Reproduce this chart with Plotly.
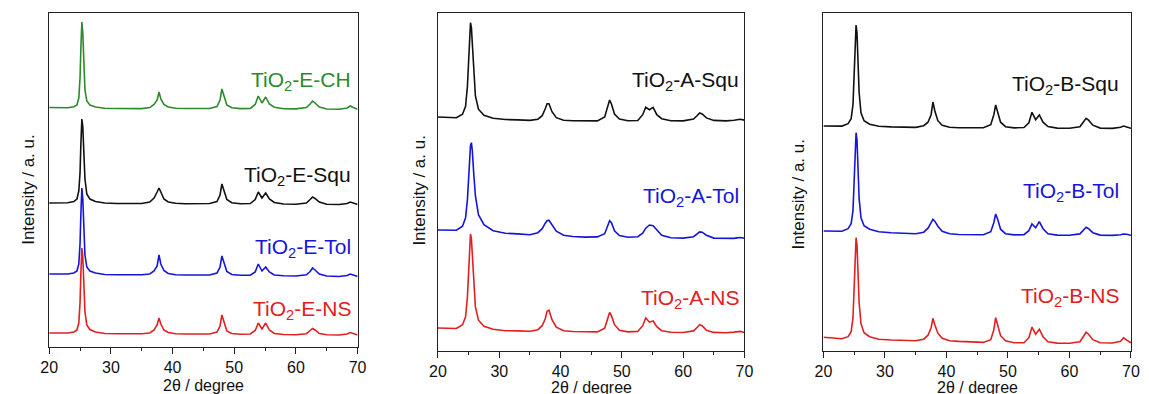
import plotly.graph_objects as go

# 2-theta sampling positions (degrees), shared by all patterns
two_theta = [20, 21, 22, 23, 24, 24.5, 24.8, 25.0, 25.15, 25.3, 25.45, 25.6, 25.8, 26.1, 26.6,
             27.5, 29, 31, 33, 35, 36.3, 37.0, 37.5, 37.8, 38.1, 38.6, 39.3, 40.5, 42, 44,
             46, 47.2, 47.7, 48.0, 48.3, 48.8, 49.6, 51, 52.6, 53.4, 53.9, 54.5, 55.1, 55.7,
             56.5, 58, 60, 61.7, 62.3, 62.7, 63.1, 63.8, 65, 67, 68.3, 68.8, 69.3, 70]

# Panel 1 (E series), stacked intensities (a.u.)
e_ch = [239.5, 239.4, 239.6, 239.3, 240.3, 242, 249, 269, 301, 325, 314, 281, 257, 246, 242,
        240, 238.8, 238.5, 238.6, 238.4, 239.4, 242.5, 247, 255, 248, 242.5, 240, 238.8, 238.5, 238.3,
        238.5, 240.5, 247, 258, 252, 242, 239.3, 238.4, 238.6, 242.5, 251, 244, 250, 243,
        239.8, 238.3, 238.1, 239.5, 243, 246, 244, 240, 238, 237.7, 239, 241, 239.5, 237.8]
e_squ = [144, 144, 144.2, 144.3, 145.5, 148, 156, 174, 205, 228, 220, 192, 168, 153, 148,
         145.5, 144, 143.5, 143.3, 143.5, 145, 149, 155, 159, 155, 148, 145, 143.8, 143.3, 143.2,
         143.5, 145.5, 152, 163, 157, 147.5, 144.3, 143.2, 143.5, 147.5, 155, 149, 154, 148,
         144.5, 143, 142.8, 144, 147.5, 150, 148.5, 145, 142.8, 142.5, 143.5, 145, 144, 142.5]
e_tol = [73, 73, 73.2, 73, 74, 76, 83, 103, 135, 159, 148, 115, 92, 80, 76,
         74, 72.5, 72.3, 72.2, 72.2, 73, 76, 81, 92, 83, 76.5, 73.5, 72.3, 72, 71.8,
         72, 74, 80, 91, 85, 75.5, 72.5, 71.7, 71.8, 75, 83, 76, 80, 75,
         72, 71.2, 71, 72.2, 75.5, 79, 77, 73, 71, 70.5, 71.5, 73, 72, 70.5]
e_ns = [14, 14, 14.2, 14, 15, 17, 24, 44, 76, 99, 90, 60, 35, 22, 17.5,
        15, 13.5, 13.3, 13, 13.2, 14, 17, 22, 29, 23, 17, 14.5, 13.3, 13, 12.8,
        13, 15, 21, 32, 26, 16, 13.5, 12.8, 13, 16.5, 24, 18, 24, 17,
        13.5, 12.5, 12.3, 13.3, 16.5, 18.5, 17, 13.5, 12.3, 12, 13, 14.5, 13.5, 12]

# Panel 2 (A series)
a_squ = [233.7, 233.3, 233.2, 233.0, 236.5, 244.5, 264.5, 292.5, 314.5, 328, 323, 305, 278, 255, 241.5,
         235.5, 232.5, 231.2, 230.8, 230.3, 231.5, 235, 242, 247, 247, 239, 233, 230.5, 230, 229.8,
         229.8, 233.7, 243.7, 250.7, 246.7, 236.7, 231.7, 229.9, 230.2, 236, 243.4, 241, 243.4, 236,
         232, 230, 229.8, 231.7, 235.2, 237.8, 236.8, 232.8, 230.3, 229.8, 230.5, 231.2, 231.4, 230.6]
a_tol = [120.7, 120.5, 120.2, 120.5, 124.5, 133, 151, 175, 193, 205, 208, 200, 180, 155, 136,
         126, 120, 117.5, 116.8, 116, 118, 122, 127.5, 130, 130.5, 126, 119.5, 115.5, 114.2, 113.6,
         113.8, 117, 125.5, 130, 128, 120, 115.2, 113.5, 114, 117.5, 122.5, 125.7, 125, 121,
         115.5, 113, 112.6, 114, 117, 118.8, 118.5, 115.5, 112.6, 112, 112.3, 112.8, 113.2, 112.4]
a_ns = [22.7, 22.4, 22.2, 22.2, 26, 34, 54, 82, 104, 116.7, 112, 94, 67, 44, 30.5,
        24.5, 21.5, 20, 19.8, 19.5, 21, 25, 32, 39.5, 40.5, 31, 23.5, 20, 19.2, 18.8,
        18.8, 22.5, 32, 38.2, 35, 26, 20.5, 18.8, 19.3, 25, 32.7, 28.5, 29.7, 24,
        20, 18.5, 18.2, 19.8, 23.5, 26, 25, 20.5, 18.3, 17.9, 18.6, 19.2, 19.3, 18.2]

# Panel 3 (B series)
b_squ = [224.7, 224.7, 224.5, 224.6, 227, 232, 246, 275, 308, 325.7, 318, 290, 258, 238, 230,
         226.5, 224.5, 223.8, 223.5, 223.3, 225, 228.5, 236, 248.7, 240, 230, 225.5, 223.5, 223, 222.8,
         223, 226, 236, 245.7, 240, 228.5, 224, 222.8, 223.2, 228, 238.4, 231, 235.7, 228.5,
         224.2, 222.6, 222.5, 224, 229, 232.4, 230.5, 225.5, 222.6, 222.3, 223.5, 224.7, 223.8, 222.4]
b_tol = [119.7, 119.5, 119.4, 119.5, 122, 127, 140, 168, 200, 218, 211, 185, 152, 133, 125,
         121.5, 119, 118, 117.5, 117, 118.5, 122.5, 128, 131.4, 129.5, 124.5, 119.5, 117, 116.2, 115.8,
         116, 119, 128, 136.7, 132, 121.5, 117, 115.8, 116, 120, 126.7, 123, 129, 122,
         117, 115.6, 115.5, 116.8, 121, 123.4, 122, 118, 115.6, 115.3, 116, 116.7, 116.5, 115.5]
b_ns = [13.4, 13, 12.3, 12, 14, 19, 33, 62, 95, 113, 106, 80, 48, 27, 18,
        14, 11.5, 10.7, 10.3, 10, 11.5, 15.5, 23, 32.4, 26, 17.5, 12.5, 10, 9.3, 8.6,
        8.3, 11, 21, 33, 27, 15, 10, 8, 8, 13, 23.5, 16.5, 21.5, 14,
        9, 7.6, 7.5, 9, 14.5, 18.5, 16.5, 11, 8, 7.7, 9.5, 12.9, 10.5, 8]

x_ticks = [20, 30, 40, 50, 60, 70]

GREEN = "#2b8a2b"
BLACK = "#111111"
BLUE = "#1515d8"
RED = "#e02020"

W, H = 1149, 394
OFF = 8  # page body margin in the browser
FONT = "Arial, Liberation Sans, sans-serif"

panels = [
    dict(x0=40.7, x1=354.0, top=13.0, bottom=347.0, yr=334.0,
         series=[("TiO<sub>2</sub>-E-NS", e_ns, RED, 309.5),
                 ("TiO<sub>2</sub>-E-Tol", e_tol, BLUE, 247.5),
                 ("TiO<sub>2</sub>-E-Squ", e_squ, BLACK, 175.5),
                 ("TiO<sub>2</sub>-E-CH", e_ch, GREEN, 80.5)],
         label_right=349, ytitle=(19, 189), xtitle_y=385),
    dict(x0=435.7, x1=747.0, top=13.0, bottom=350.7, yr=337.7,
         series=[("TiO<sub>2</sub>-A-NS", a_ns, RED, 298.5),
                 ("TiO<sub>2</sub>-A-Tol", a_tol, BLUE, 196.5),
                 ("TiO<sub>2</sub>-A-Squ", a_squ, BLACK, 81)],
         label_right=744, ytitle=(416, 190), xtitle_y=387.5),
    dict(x0=827.3, x1=1139.7, top=13.0, bottom=350.7, yr=337.7,
         series=[("TiO<sub>2</sub>-B-NS", b_ns, RED, 296.5),
                 ("TiO<sub>2</sub>-B-Tol", b_tol, BLUE, 191.5),
                 ("TiO<sub>2</sub>-B-Squ", b_squ, BLACK, 85)],
         label_right=1130, ytitle=(801, 194), xtitle_y=387.5),
]

fig = go.Figure()
annotations = []


def px(xp):
    return (xp - OFF) / W


def py(yp):
    return (H - (yp - OFF)) / H


for i, p in enumerate(panels):
    n = "" if i == 0 else str(i + 1)
    xa, ya = "x" + n, "y" + n
    for name, vals, col, _ in p["series"]:
        fig.add_trace(go.Scatter(x=two_theta, y=vals, mode="lines", xaxis=xa, yaxis=ya,
                                 line=dict(color=col, width=1.6), name=name, showlegend=False,
                                 hoverinfo="skip"))
    axis_common = dict(showline=True, linecolor="#222", linewidth=1.4, mirror=True,
                       showgrid=False, zeroline=False)
    fig.update_layout(**{
        "xaxis" + n: dict(domain=[px(p["x0"]), px(p["x1"])], range=[20, 70],
                          tickvals=x_ticks, ticks="outside", ticklen=6, tickwidth=1.3,
                          tickcolor="#222", anchor=ya,
                          tickfont=dict(family=FONT, size=16, color="#111"),
                          minor=dict(ticks="outside", tickvals=[25, 35, 45, 55, 65],
                                     ticklen=3, tickwidth=1.2, tickcolor="#222"),
                          **axis_common),
        "yaxis" + n: dict(domain=[py(p["bottom"]), py(p["top"])], range=[0, p["yr"]],
                          showticklabels=False, ticks="", anchor=xa, **axis_common),
    })
    for name, vals, col, ylab in p["series"]:
        annotations.append(dict(text=name, xref="paper", yref="paper",
                                x=px(p["label_right"]), y=py(ylab),
                                xanchor="right", yanchor="middle", showarrow=False,
                                font=dict(family=FONT, size=21, color=col)))
    annotations.append(dict(text="Intensity / a. u.", xref="paper", yref="paper",
                            x=px(p["ytitle"][0]), y=py(p["ytitle"][1]), textangle=-90,
                            xanchor="center", yanchor="middle", showarrow=False,
                            font=dict(family=FONT, size=17, color="#111")))
    annotations.append(dict(text="2θ / degree", xref="paper", yref="paper",
                            x=px((p["x0"] + p["x1"]) / 2), y=py(p["xtitle_y"]),
                            xanchor="center", yanchor="middle", showarrow=False,
                            font=dict(family=FONT, size=16, color="#111")))

fig.update_layout(width=W, height=H, margin=dict(l=0, r=0, t=0, b=0),
                  paper_bgcolor="white", plot_bgcolor="white", showlegend=False,
                  annotations=annotations)

fig.write_html("out.html")
